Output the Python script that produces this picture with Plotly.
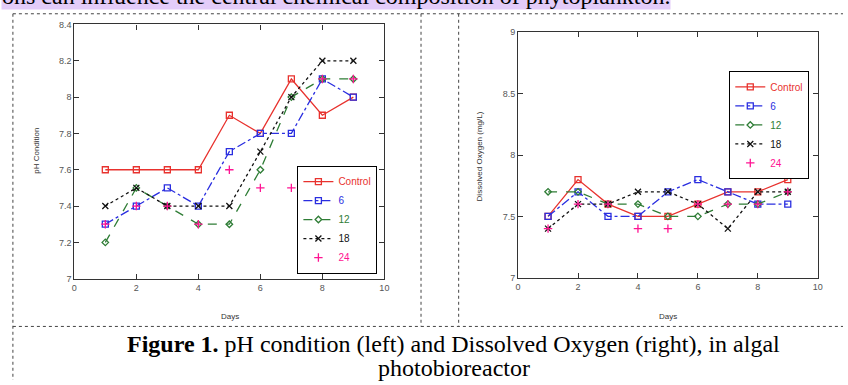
import plotly.graph_objects as go

days = [1, 2, 3, 4, 5, 6, 7, 8, 9]
series_names = ["Control", "6", "12", "18", "24"]

ph_control = [7.6, 7.6, 7.6, 7.6, 7.9, 7.8, 8.1, 7.9, 8.0]
ph_6 = [7.3, 7.4, 7.5, 7.4, 7.7, 7.8, 7.8, 8.1, 8.0]
ph_12 = [7.2, 7.5, 7.4, 7.3, 7.3, 7.6, 8.0, 8.1, 8.1]
ph_18 = [7.4, 7.5, 7.4, 7.4, 7.4, 7.7, 8.0, 8.2, 8.2]
ph_24 = [7.3, 7.4, 7.4, 7.3, 7.6, 7.5, 7.5, 8.1, 8.1]

do_control = [7.5, 7.8, 7.6, 7.5, 7.5, 7.6, 7.7, 7.7, 7.8]
do_6 = [7.5, 7.7, 7.5, 7.5, 7.7, 7.8, 7.7, 7.6, 7.6]
do_12 = [7.7, 7.7, 7.6, 7.6, 7.5, 7.5, 7.6, 7.6, 7.7]
do_18 = [7.4, 7.6, 7.6, 7.7, 7.7, 7.6, 7.4, 7.7, 7.7]
do_24 = [7.4, 7.6, 7.6, 7.4, 7.4, 7.6, 7.6, 7.6, 7.7]

ph_ticks = [7, 7.2, 7.4, 7.6, 7.8, 8, 8.2, 8.4]
ph_ticklabels = ["7", "7.2", "7.4", "7.6", "7.8", "8", "8.2", "8.4"]
do_ticks = [7, 7.5, 8, 8.5, 9]
do_ticklabels = ["7", "7.5", "8", "8.5", "9"]
x_ticks = [0, 2, 4, 6, 8, 10]

styles = [
    dict(color="#e8322e", dash="solid", symbol="square-open", mode="lines+markers", size=6),
    dict(color="#2a2ee0", dash="dashdot", symbol="square-open", mode="lines+markers", size=6),
    dict(color="#2f7d36", dash="dash", symbol="diamond-open", mode="lines+markers", size=5),
    dict(color="#111111", dash="dot", symbol="x-thin-open", mode="lines+markers", size=6),
    dict(color="#ff1493", dash="solid", symbol="cross-thin-open", mode="markers", size=6),
]

W, H = 848, 385
def px(x): return x / W
def py(y): return 1 - y / H

fig = go.Figure()
for data, xa, ya, lg in [
    ([ph_control, ph_6, ph_12, ph_18, ph_24], "x", "y", "legend"),
    ([do_control, do_6, do_12, do_18, do_24], "x2", "y2", "legend2"),
]:
    for name, vals, st in zip(series_names, data, styles):
        fig.add_trace(go.Scatter(
            x=days, y=vals, xaxis=xa, yaxis=ya, legend=lg,
            mode=st["mode"],
            name=f"<span style='color:{st['color']}'>{name}</span>",
            line=dict(color=st["color"], width=1.3, dash=st["dash"]),
            marker=dict(symbol=st["symbol"], size=st["size"], color=st["color"],
                        line=dict(color=st["color"], width=1.3)),
        ))

axis_common = dict(
    showgrid=False, zeroline=False, showline=True, linecolor="#333", linewidth=1.2,
    mirror="ticks", ticks="inside", ticklen=5, tickcolor="#333", tickwidth=1,
    tickfont=dict(family="Liberation Sans, Arial", size=9, color="#555"),
)

fig.update_layout(
    width=W, height=H, margin=dict(l=0, r=0, t=0, b=0),
    paper_bgcolor="white", plot_bgcolor="white",
    xaxis=dict(domain=[px(72), px(385)], range=[0, 10], tickvals=x_ticks, anchor="y", **axis_common),
    yaxis=dict(domain=[py(281), py(20)], range=[7, 8.4], tickvals=ph_ticks, ticktext=ph_ticklabels,
               anchor="x", **axis_common),
    xaxis2=dict(domain=[px(520), px(822.5)], range=[0, 10], tickvals=x_ticks, anchor="y2", **axis_common),
    yaxis2=dict(domain=[py(280), py(28)], range=[7, 9], tickvals=do_ticks, ticktext=do_ticklabels,
                anchor="x2", **axis_common),
    legend=dict(x=px(297), y=py(276), xanchor="left", yanchor="bottom", bgcolor="white",
                bordercolor="black", borderwidth=1.2,
                font=dict(family="Liberation Sans, Arial", size=10), tracegroupgap=0),
    legend2=dict(x=px(733), y=py(68), xanchor="left", yanchor="top", bgcolor="white",
                 bordercolor="black", borderwidth=1.2,
                 font=dict(family="Liberation Sans, Arial", size=10), tracegroupgap=0),
    showlegend=True,
)

ann_font = dict(family="Liberation Sans, Arial", size=8, color="#333")
serif = dict(family="Liberation Serif, Times New Roman", size=24, color="black")
annotations = [
    dict(text="pH Condition", x=px(33), y=py(150), textangle=-90, font=ann_font),
    dict(text="Days", x=px(229), y=py(320), font=ann_font),
    dict(text="Dissolved Oxygen (mg/L)", x=px(482), y=py(155), textangle=-90, font=ann_font),
    dict(text="Days", x=px(671), y=py(320), font=ann_font),
    dict(text="<b>Figure 1.</b> pH condition (left) and Dissolved Oxygen (right), in algal",
         x=px(455), y=py(348), font=serif),
    dict(text="photobioreactor", x=px(455), y=py(373), font=serif),
    dict(text="ons can influence the central chemical composition of phytoplankton.",
         x=px(-2), y=py(-9), xanchor="left", yanchor="middle", font=serif,
         bgcolor="#e3ccf9", borderpad=0),
]
for a in annotations:
    a.setdefault("xref", "paper"); a.setdefault("yref", "paper")
    a.setdefault("showarrow", False)
    a.setdefault("xanchor", "center"); a.setdefault("yanchor", "middle")
    fig.add_annotation(**a)

shapes = [
    dict(type="line", x0=px(10), x1=1, y0=py(9), y1=py(9)),
    dict(type="line", x0=px(10), x1=px(10), y0=py(9), y1=0),
    dict(type="line", x0=px(422), x1=px(422), y0=py(9), y1=py(330)),
    dict(type="line", x0=px(460), x1=px(460), y0=py(9), y1=py(330)),
    dict(type="line", x0=px(10), x1=1, y0=py(330), y1=py(330)),
]
for s in shapes:
    s.setdefault("xref", "paper"); s.setdefault("yref", "paper")
    s["line"] = dict(color="#444", width=1, dash="dot")
    fig.add_shape(**s)

fig.write_html("out.html")
